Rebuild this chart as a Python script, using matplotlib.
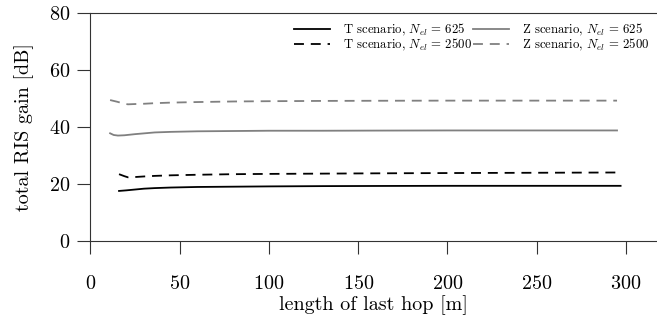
import matplotlib
matplotlib.use("Agg")
import matplotlib.pyplot as plt

# total RIS gain vs. length of the last hop, two scenarios, two array sizes
t625_x = [16, 20, 25, 30, 36, 45, 60, 80, 100, 130, 160, 200, 250, 297]
t625_y = [17.5, 17.7, 18.0, 18.3, 18.5, 18.7, 18.9, 19.0, 19.1, 19.2, 19.25, 19.3, 19.3, 19.3]

t2500_x = [16, 19, 21, 25, 30, 36, 45, 60, 80, 100, 130, 160, 200, 250, 297]
t2500_y = [23.4, 22.7, 22.3, 22.4, 22.6, 22.8, 23.0, 23.2, 23.4, 23.5, 23.6, 23.7, 23.8, 23.9, 24.0]

z625_x = [11, 13, 15.4, 19, 25, 36, 45, 60, 80, 100, 130, 160, 200, 250, 295]
z625_y = [37.8, 37.2, 37.0, 37.1, 37.5, 38.1, 38.3, 38.5, 38.6, 38.7, 38.7, 38.75, 38.8, 38.8, 38.8]

z2500_x = [11, 15, 19, 21, 25, 30, 36, 45, 60, 80, 100, 130, 160, 200, 250, 295]
z2500_y = [49.5, 48.9, 48.2, 48.0, 48.1, 48.2, 48.4, 48.6, 48.8, 49.0, 49.1, 49.2, 49.25, 49.3, 49.3, 49.3]

x_ticks = [0, 50, 100, 150, 200, 250, 300]
y_ticks = [0, 20, 40, 60, 80]

plt.rcParams["font.family"] = "serif"
plt.rcParams["font.serif"] = ["cmr10"]
plt.rcParams["mathtext.fontset"] = "cm"
plt.rcParams["axes.formatter.use_mathtext"] = True

GRAY = "#808080"
DASH = (5.5, 3.8)
LW = 1.3
FS = 14.5

fig = plt.figure(figsize=(6.57, 3.2), dpi=100)
ax = fig.add_axes([0.1377, 0.248, 0.8623, 0.710])

ax.plot(t625_x, t625_y, color="black", lw=LW,
        label=r"T scenario, $N_{el}\,=\,625$")
ax.plot(t2500_x, t2500_y, color="black", lw=LW, dashes=DASH,
        label=r"T scenario, $N_{el}\,=\,2500$")
ax.plot(z625_x, z625_y, color=GRAY, lw=LW,
        label=r"Z scenario, $N_{el}\,=\,625$")
ax.plot(z2500_x, z2500_y, color=GRAY, lw=LW, dashes=DASH,
        label=r"Z scenario, $N_{el}\,=\,2500$")

ax.set_xlim(0, 317.4)
ax.set_ylim(0, 80)
ax.set_xticks(x_ticks)
ax.set_yticks(y_ticks)
ax.spines["right"].set_visible(False)
for s in ("left", "top", "bottom"):
    ax.spines[s].set_linewidth(0.8)
    ax.spines[s].set_color("#333333")
ax.tick_params(axis="both", direction="out", length=9.5, width=0.8,
               color="#333333", labelsize=FS)
ax.tick_params(axis="x", pad=15)
ax.tick_params(axis="y", pad=5)

ax.set_xlabel("length of last hop [m]", fontsize=FS, labelpad=2)
ax.set_ylabel("total RIS gain [dB]", fontsize=FS, labelpad=11)

ax.legend(loc="upper right", ncol=2, frameon=False, fontsize=9.2,
          handlelength=2.8, handletextpad=1.0, columnspacing=0.1,
          labelspacing=-0.1, borderaxespad=0.2, bbox_to_anchor=(1.0, 0.995))

fig.savefig("out.png", dpi=100)
